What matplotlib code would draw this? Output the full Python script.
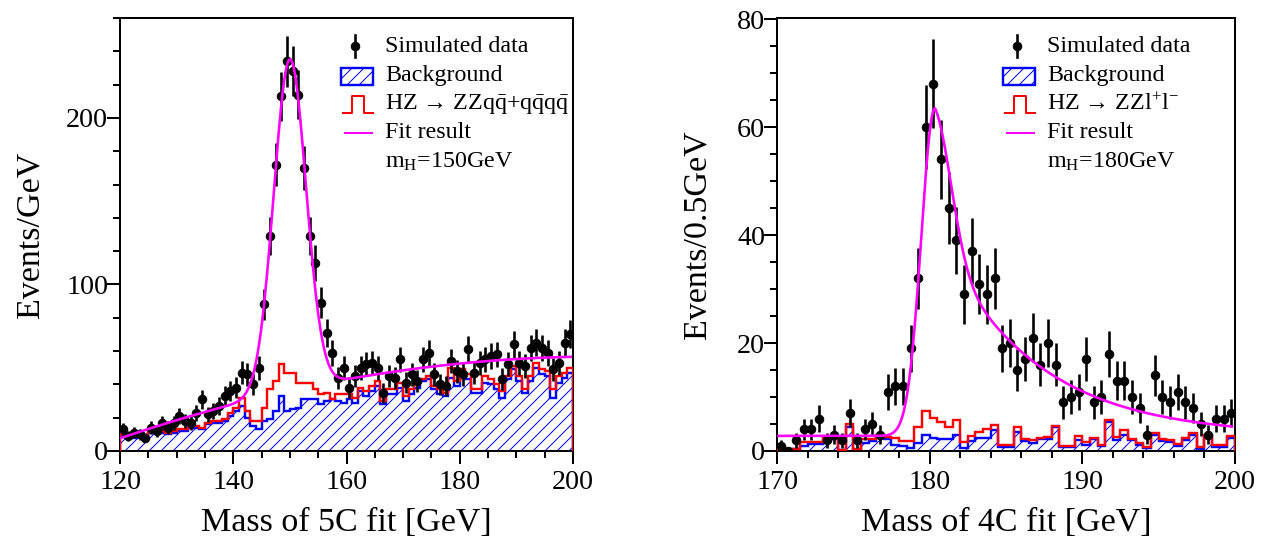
import numpy as np
import matplotlib
matplotlib.use('Agg')
import matplotlib.pyplot as plt
from matplotlib.patches import Rectangle
from matplotlib.lines import Line2D
from matplotlib.ticker import MultipleLocator

plt.rcParams['font.family'] = ['Liberation Serif', 'DejaVu Serif']
plt.rcParams['mathtext.fontset'] = 'custom'
plt.rcParams['mathtext.rm'] = 'Liberation Serif'
plt.rcParams['mathtext.it'] = 'Liberation Serif:italic'
plt.rcParams['mathtext.bf'] = 'Liberation Serif:bold'
plt.rcParams['hatch.linewidth'] = 1.0

# ---------------- data: left panel (5C fit, 1 GeV bins, 120-200) -------------
left_lo, left_hi, left_bw = 120.0, 200.0, 1.0
left_data = [13, 9, 11, 10, 8, 14, 12, 17, 14, 17,
             21, 18, 17, 23, 31, 22, 24, 27, 33, 36,
             38, 47, 46, 40, 50, 88, 129, 172, 213, 234,
             228, 214, 170, 129, 113, 89, 71, 59, 44, 50,
             38, 45, 50, 52, 53, 50, 35, 45, 44, 55,
             41, 46, 42, 55, 59, 46, 40, 39, 54, 48,
             46, 61, 47, 53, 55, 57, 58, 43, 52, 64,
             53, 51, 62, 65, 62, 59, 49, 53, 65, 70]
left_bkg = [9, 9, 8, 9, 8, 11, 11, 11, 10, 11,
            12, 12, 14, 14, 13, 16, 17, 17, 18, 21,
            24, 27, 20, 15, 13, 18, 19, 24, 33, 24,
            25, 26, 31, 31, 31, 28, 30, 31, 30, 29,
            31, 29, 36, 33, 36, 39, 28, 34, 34, 38,
            30, 34, 38, 42, 43, 37, 34, 33, 44, 39,
            46, 43, 35, 35, 41, 40, 37, 32, 43, 49,
            42, 35, 42, 50, 46, 45, 32, 41, 44, 47]
left_total = [10, 10, 9, 10, 9, 12, 12, 12, 11, 12,
              13, 13, 15, 15, 14, 17, 18, 18, 19, 23,
              26, 32, 24, 18, 18, 26, 37, 42, 52, 47,
              47, 41, 41, 41, 37, 34, 35, 31, 34, 34,
              34, 32, 38, 36, 39, 42, 30, 37, 37, 41,
              33, 37, 41, 43, 45, 39, 37, 35, 50, 42,
              49, 46, 37, 37, 45, 43, 40, 36, 45, 51,
              45, 37, 45, 53, 49, 48, 37, 45, 47, 50]
# fit result (quadratic background + Gaussian peak)
left_fit_bkg = (7.6, 1.157, -0.00681)    # coefficients in (m - 120)
left_fit_peak = (199.0, 150.0, 2.85)     # amplitude, mean, sigma
left_fit_range = (120.0, 199.6)

# ---------------- data: right panel (4C fit, 0.5 GeV bins, 170-200) -----------
right_lo, right_hi, right_bw = 170.0, 200.0, 0.5
right_data = [1, 0, 2, 4, 4, 6, 2, 3, 2, 7,
              2, 4, 5, 3, 11, 12, 12, 19, 32, 60,
              68, 54, 45, 39, 29, 37, 31, 29, 32, 19,
              20, 15, 17, 21, 16, 20, 16, 9, 10, 11,
              17, 9, 10, 18, 13, 13, 10, 8, 3, 14,
              10, 9, 11, 9, 8, 5, 3, 6, 6, 7]
right_bkg = [0.4, 0.2, 0.3, 1.0, 1.3, 1.3, 1.8, 2.2, 0.2, 4.5,
             0.2, 1.5, 1.8, 2.5, 2.2, 1.2, 1.0, 0.5, 1.5, 2.9,
             2.5, 2.2, 2.2, 2.9, 0.6, 1.8, 2.4, 2.4, 3.9, 0.8,
             0.8, 3.5, 1.8, 1.5, 2.2, 2.3, 4.5, 0.8, 0.7, 2.0,
             1.2, 2.2, 1.0, 5.4, 2.0, 3.0, 2.0, 1.1, 0.5, 3.0,
             1.8, 1.7, 1.0, 2.0, 3.0, 0.4, 2.5, 0.8, 0.8, 2.5]
right_total = [0.7, 0.3, 0.4, 1.6, 1.7, 1.7, 2.6, 2.6, 0.2, 5.0,
               0.3, 2.2, 2.2, 3.0, 2.6, 2.5, 1.8, 1.8, 4.5, 7.5,
               6.2, 5.4, 4.5, 5.8, 1.7, 2.8, 3.6, 4.0, 4.8, 1.2,
               1.2, 4.4, 2.3, 2.1, 2.5, 2.6, 4.7, 0.9, 0.9, 2.7,
               1.7, 2.4, 1.2, 5.7, 2.6, 3.9, 2.3, 1.4, 0.7, 3.3,
               2.2, 2.0, 1.3, 2.5, 3.3, 0.8, 3.0, 1.1, 1.1, 2.8]
# fit result (constant + asymmetric peak with exponential tail)
right_fit_const = 2.8
right_fit_peak = (60.7, 180.35, 0.9, 1.1, 0.37, 6.3)  # A, mean, sigL, sigR, gauss frac, tau
right_fit_range = (170.1, 199.8)

legend_left = ['Simulated data', 'Background',
               'HZ \u2192 ZZq$\\bar{\\mathrm{q}}$+q$\\bar{\\mathrm{q}}$q$\\bar{\\mathrm{q}}$',
               'Fit result', 'm$_{\\mathrm{H}}$=150GeV']
legend_right = ['Simulated data', 'Background',
                'HZ \u2192 ZZl$^{+}$l$^{-}$',
                'Fit result', 'm$_{\\mathrm{H}}$=180GeV']


def left_fit(m):
    c0, c1, c2 = left_fit_bkg
    a, mu, s = left_fit_peak
    t = m - 120.0
    return c0 + c1 * t + c2 * t ** 2 + a * np.exp(-0.5 * ((m - mu) / s) ** 2)


def right_fit(m):
    a, mu, sl, sr, fg, tau = right_fit_peak
    d = m - mu
    left = np.exp(-0.5 * (d / sl) ** 2)
    right = fg * np.exp(-0.5 * (d / sr) ** 2) + (1 - fg) * np.exp(-np.clip(d, 0, None) / tau)
    return right_fit_const + a * np.where(d < 0, left, right)


DPI = 72
W, H = 1262, 539
fig = plt.figure(figsize=(W / DPI, H / DPI), dpi=DPI)

axL = fig.add_axes([120 / W, 1 - 451 / H, 453 / W, 433 / H])
axR = fig.add_axes([777 / W, 1 - 451 / H, 458 / W, 433 / H])

BLUE = '#0000ff'
RED = '#ff0000'
MAG = '#ff00ff'


def draw_panel(ax, lo, hi, bw, data, bkg, total, fitfun, frange, ylim_top):
    edges = np.arange(lo, hi + bw / 2, bw)
    centers = edges[:-1] + bw / 2
    data = np.asarray(data, float)
    ax.stairs(bkg, edges, fill=True, facecolor='none', edgecolor=BLUE,
              hatch='//', linewidth=0, baseline=0, zorder=1)
    ax.stairs(bkg, edges, fill=False, color=BLUE, linewidth=2.4, baseline=0, zorder=2)
    ax.stairs(total, edges, fill=False, color=RED, linewidth=2.4, baseline=0, zorder=3)
    ax.errorbar(centers, data, yerr=np.sqrt(data), fmt='o', color='black',
                ms=8.5, elinewidth=2.6, capsize=0, zorder=4)
    xs = np.linspace(frange[0], frange[1], 800)
    ax.plot(xs, fitfun(xs), color=MAG, lw=2.6, zorder=5)
    ax.set_xlim(lo, hi)
    ax.set_ylim(0, ylim_top)
    for sp in ax.spines.values():
        sp.set_linewidth(2.0)


draw_panel(axL, left_lo, left_hi, left_bw, left_data, left_bkg, left_total,
           left_fit, left_fit_range, 260)
draw_panel(axR, right_lo, right_hi, right_bw, right_data, right_bkg, right_total,
           right_fit, right_fit_range, 80.2)

axL.xaxis.set_major_locator(MultipleLocator(20))
axL.xaxis.set_minor_locator(MultipleLocator(5))
axL.yaxis.set_major_locator(MultipleLocator(100))
axL.yaxis.set_minor_locator(MultipleLocator(20))
axR.xaxis.set_major_locator(MultipleLocator(10))
axR.xaxis.set_minor_locator(MultipleLocator(2))
axR.yaxis.set_major_locator(MultipleLocator(20))
axR.yaxis.set_minor_locator(MultipleLocator(5))

for ax in (axL, axR):
    ax.tick_params(which='major', direction='out', length=13, width=2, labelsize=28)
    ax.tick_params(which='minor', direction='out', length=7, width=2)
    ax.tick_params(axis='y', which='major', pad=-1)
    ax.tick_params(axis='x', which='major', pad=6)

axL.set_xlabel('Mass of 5C fit [GeV]', fontsize=34)
axL.set_ylabel('Events/GeV', fontsize=34)
axR.set_xlabel('Mass of 4C fit [GeV]', fontsize=34)
axR.set_ylabel('Events/0.5GeV', fontsize=34)
axL.xaxis.set_label_coords(0.5, (451 - 523) / 433)
axR.xaxis.set_label_coords(0.5, (451 - 523) / 433)
axL.yaxis.set_label_coords((30 - 120) / 453, 0.5)
axR.yaxis.set_label_coords((697 - 777) / 458, 0.5)
for ax in (axL, axR):
    ax.xaxis.label.set_va('center')
    ax.yaxis.label.set_va('center')


def fx(px):
    return px / W


def fy(py):
    return 1 - py / H


def draw_legend(tx, labels):
    rows = [46, 76, 104, 133, 162]
    tr = fig.transFigure
    # data symbol
    mx = tx - 30
    fig.add_artist(Line2D([fx(mx), fx(mx)], [fy(rows[0] - 11), fy(rows[0] + 11)],
                          color='black', lw=2.6, transform=tr))
    fig.add_artist(Line2D([fx(mx)], [fy(rows[0])], marker='o', ms=8.5,
                          color='black', transform=tr))
    # background box
    fig.add_artist(Rectangle((fx(tx - 44), fy(rows[1] + 8.5)), 32 / W, 17 / H,
                             facecolor='none', edgecolor=BLUE, hatch='//',
                             lw=2.4, transform=tr))
    # signal pulse
    x0, x1, x2, x3 = tx - 42, tx - 33, tx - 21, tx - 12
    yb, yt = rows[2] + 9, rows[2] - 8
    fig.add_artist(Line2D([fx(x0), fx(x1), fx(x1), fx(x2), fx(x2), fx(x3)],
                          [fy(yb), fy(yb), fy(yt), fy(yt), fy(yb), fy(yb)],
                          color=RED, lw=2.0, transform=tr))
    # fit line
    fig.add_artist(Line2D([fx(tx - 40), fx(tx - 13)], [fy(rows[3]), fy(rows[3])],
                          color=MAG, lw=2.0, transform=tr))
    for r, lab in zip(rows, labels):
        fig.text(fx(tx), fy(r), lab, fontsize=24, va='center', ha='left')


draw_legend(385, legend_left)
draw_legend(1047, legend_right)

fig.savefig('out.png', dpi=DPI)
